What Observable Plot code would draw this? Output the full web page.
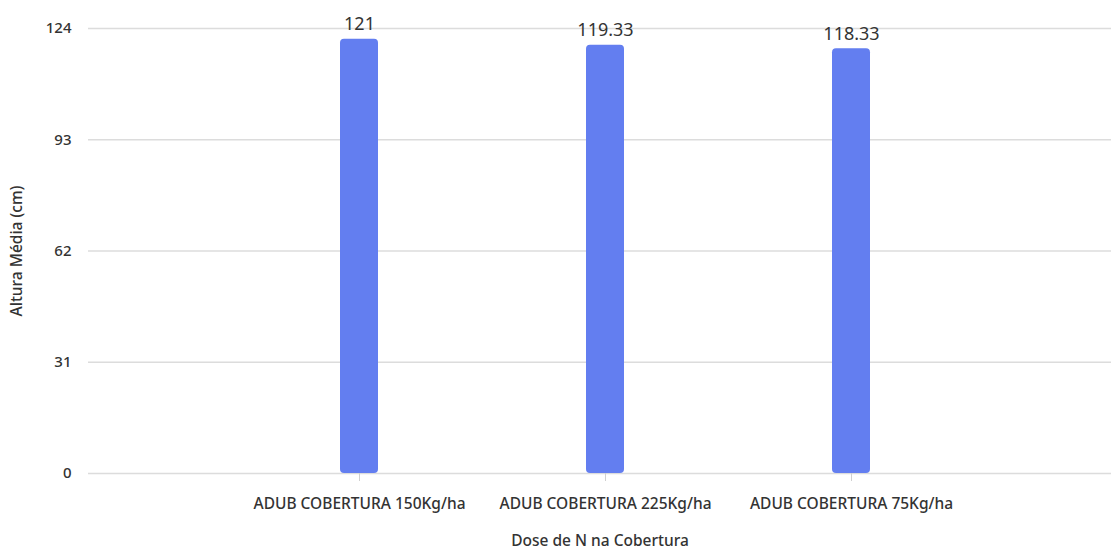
<!DOCTYPE html>
<html>
<head>
<meta charset="utf-8">
<script src="https://cdn.jsdelivr.net/npm/d3@7"></script>
<script src="https://cdn.jsdelivr.net/npm/@observablehq/plot@0.6"></script>
<style>
  html, body { margin: 0; padding: 0; background: #fff; }
  #chart { width: 1111px; height: 552px; }
  svg { font-family: "Noto Sans", "Open Sans", sans-serif; }
</style>
</head>
<body>
<div id="chart"></div>
<script>
const categories = ["ADUB COBERTURA 150Kg/ha", "ADUB COBERTURA 225Kg/ha", "ADUB COBERTURA 75Kg/ha"];
const values = [121, 119.33, 118.33];
const valueLabels = ["121", "119.33", "118.33"];
const yTicks = [0, 31, 62, 93, 124];
const xTitle = "Dose de N na Cobertura";
const yTitle = "Altura Média (cm)";

const data = categories.map((c, i) => ({cat: c, value: values[i], label: valueLabels[i]}));

const chart = Plot.plot({
  width: 1111,
  height: 552,
  marginTop: 28,
  marginBottom: 79,
  marginLeft: 88,
  marginRight: 0,
  style: {fontFamily: "'Noto Sans', 'Open Sans', sans-serif", background: "#fff", color: "#333"},
  x: {domain: categories, paddingInner: 0.846, paddingOuter: 0.994, align: 0.512, label: null},
  y: {domain: [0, 124], label: null},
  marks: [
    Plot.ruleY(yTicks, {stroke: "#dcdcdc", strokeWidth: 1.5}),
    Plot.barY(data, {x: "cat", y: "value", fill: "#637ef0", rx: 4}),
    Plot.text(data, {x: "cat", y: "value", text: "label", lineAnchor: "bottom", dy: -9, fontSize: 18, fill: "#333"}),
    Plot.axisY({ticks: yTicks, tickSize: 0, tickPadding: 17, fontSize: 15, fontWeight: 500, fill: "#333", label: null}),
    Plot.axisY({ticks: [], tickSize: 0, label: yTitle, labelAnchor: "center", labelArrow: "none", labelOffset: 78, fontSize: 15.5, fontWeight: 500, fill: "#333"}),
    Plot.axisX({tickSize: 8, stroke: "#d0d0d0", tickPadding: 16, fontSize: 15.5, fontWeight: 500, fill: "#333", label: null}),
    Plot.text([xTitle], {frameAnchor: "bottom", dy: 72, fontSize: 15.5, fill: "#333", fontWeight: 500})
  ]
});
document.getElementById("chart").append(chart);
</script>
</body>
</html>
